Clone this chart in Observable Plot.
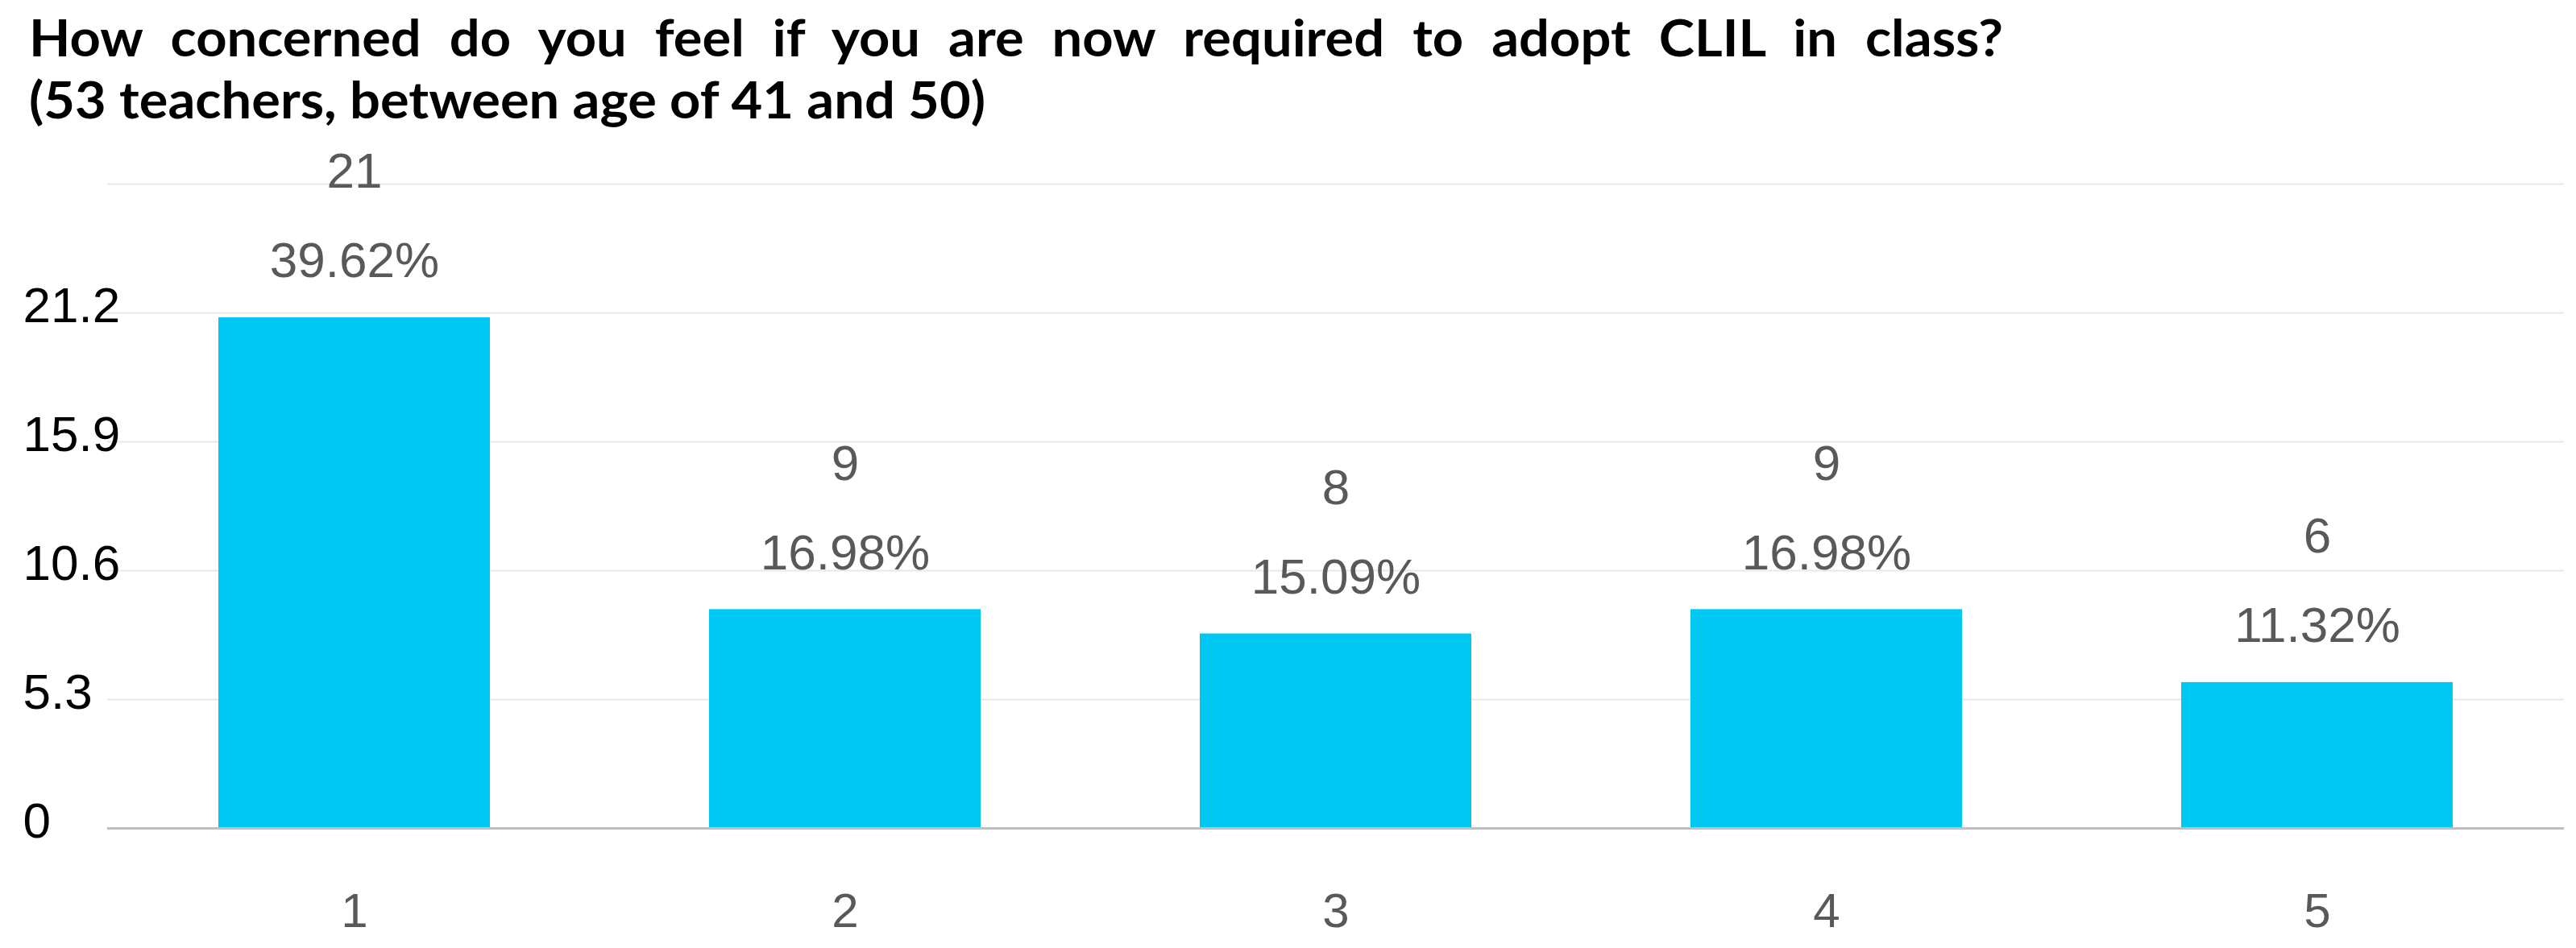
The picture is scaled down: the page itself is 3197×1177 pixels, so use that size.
<!DOCTYPE html>
<html><head><meta charset="utf-8">
<script src="https://cdn.jsdelivr.net/npm/d3@7"></script>
<script src="https://cdn.jsdelivr.net/npm/@observablehq/plot@0.6"></script>
<style>
html,body{margin:0;padding:0;background:#fff;}
#title{position:relative;height:150px;width:3197px;font-family:Lato, "Open Sans", sans-serif;font-weight:700;font-size:64px;line-height:77px;color:#000;}
#title .l{position:absolute;left:36px;white-space:nowrap;transform-origin:0 0;}
#title .l1{top:7px;}
#title .l2{top:84px;}
</style>
</head><body>
<div id="title"><span class="l l1">How concerned do you feel if you are now required to adopt CLIL in class?</span><span class="l l2">(53 teachers, between age of 41 and 50)</span></div>
<div id="chart"></div>
<script>
const titleLine1 = "How concerned do you feel if you are now required to adopt CLIL in class?";
const titleLine2 = "(53 teachers, between age of 41 and 50)";
const categories = ["1", "2", "3", "4", "5"];
const counts = [21, 9, 8, 9, 6];
const percentLabels = ["39.62%", "16.98%", "15.09%", "16.98%", "11.32%"];
const yTicks = [0, 5.3, 10.6, 15.9, 21.2];
const yTickLabels = ["0", "5.3", "10.6", "15.9", "21.2"];
const gridValues = [5.3, 10.6, 15.9, 21.2, 26.5];
const yMax = 26.5;

// title layout: stretch line 2 to its width in the picture, justify line 1
const l1 = document.querySelector(".l1"), l2 = document.querySelector(".l2");
const w2 = l2.getBoundingClientRect().width;
const s = 1187 / w2;
l2.style.transform = `scaleX(${s})`;
const w1 = l1.getBoundingClientRect().width;
const spaces = titleLine1.split(" ").length - 1;
l1.style.wordSpacing = ((2450 / s - w1) / spaces) + "px";
l1.style.transform = `scaleX(${s})`;

const data = categories.map((c, i) => ({cat: c, count: counts[i], pct: percentLabels[i]}));

const chart = Plot.plot({
  width: 3197,
  height: 1027,
  marginTop: 78,
  marginBottom: 149,
  marginLeft: 133,
  marginRight: 15,
  style: {fontFamily: "'Liberation Sans', Arial, sans-serif", background: "#fff"},
  x: {type: "band", domain: categories, paddingInner: 0.447, paddingOuter: 0.224, label: null},
  y: {domain: [0, yMax], label: null},
  marks: [
    Plot.gridY(gridValues, {stroke: "#e8e8e8", strokeOpacity: 1, strokeWidth: 2}),
    Plot.barY(data, {x: "cat", y: "count", fill: "#00c8f2"}),
    Plot.ruleY([0], {stroke: "#bfbfbf", strokeWidth: 3}),
    Plot.axisY(yTicks, {tickSize: 0, tickPadding: 3, tickFormat: d => yTickLabels[yTicks.indexOf(d)], textAnchor: "start", dx: -102, dy: -8, fontSize: 62, color: "#000", label: null}),
    Plot.axisX({tickSize: 0, tickPadding: 80, fontSize: 60, color: "#595959", label: null}),
    Plot.text(data, {x: "cat", y: "count", text: d => String(d.count), dy: -181, fontSize: 62, fill: "#595959"}),
    Plot.text(data, {x: "cat", y: "count", text: "pct", dy: -70, fontSize: 62, fill: "#595959"})
  ]
});
document.getElementById("chart").appendChild(chart);
</script>
</body></html>
